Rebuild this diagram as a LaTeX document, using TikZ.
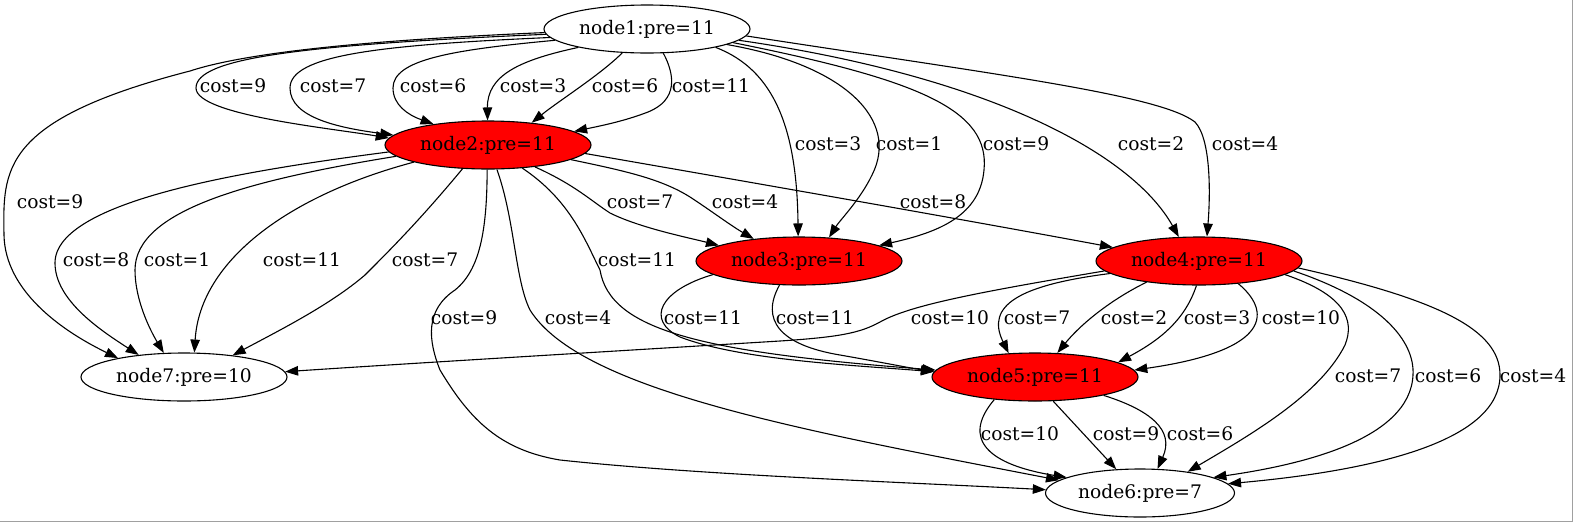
\documentclass[tikz,border=0pt]{standalone}
\usepackage{fontspec}
\setmainfont{DejaVu Serif}
\usetikzlibrary{shapes.geometric,arrows.meta}
\definecolor{framegray}{RGB}{160,160,160}
\begin{document}
\begin{tikzpicture}[x=1pt,y=-1pt,
  nd/.style={ellipse,draw=black,line width=1.1pt,minimum width=206pt,minimum height=48pt,inner sep=0pt,font=\fontsize{18.67}{20}\selectfont},
  hot/.style={nd,fill=red},
  e/.style={line width=1.1pt,-{Triangle[length=13pt,width=9.5pt]}},
  lbl/.style={inner sep=0pt,font=\fontsize{18.67}{20}\selectfont}]
\useasboundingbox (0,0) rectangle (1574,523);
\draw[framegray,line width=1pt] (1572.5,0) -- (1572.5,521.5) -- (0,521.5);

% nodes
\node[nd]  (n1) at (647,29)  {node1:pre=11};
\node[hot] (n2) at (488,145) {node2:pre=11};
\node[hot] (n3) at (799,261) {node3:pre=11};
\node[hot] (n4) at (1199,261) {node4:pre=11};
\node[hot] (n5) at (1035,377) {node5:pre=11};
\node[nd,minimum width=189pt] (n6) at (1140,493) {node6:pre=7};
\node[nd]  (n7) at (184,377) {node7:pre=10};

% node1 -> node2
\draw[e] (n1.183) .. controls (300,45) and (196,58) .. (196,88) .. controls (196,115) and (330,128) .. (n2.176);
\draw[e] (n1.185) .. controls (380,45) and (290,55) .. (290,88) .. controls (290,118) and (340,128) .. (n2.174);
\draw[e] (n1.187) .. controls (450,50) and (393,60) .. (393,88) .. controls (393,105) and (408,115) .. (n2.159);
\draw[e] (n1.195) .. controls (520,60) and (487,75) .. (n2.91);
\draw[e] (n1.224) .. controls (600,75) and (560,100) .. (n2.27);
\draw[e] (n1.304) .. controls (675,75) and (678,100) .. (648,112) .. controls (625,121) and (600,126) .. (n2.9);
% node1 -> node7
\draw[e] (n1.182) .. controls (420,38) and (260,48) .. (190,71) .. controls (0,120) and (3,170) .. (4,235) .. controls (5,290) and (60,330) .. (n7.164);
% node1 -> node3
\draw[e] (n1.345) .. controls (775,70) and (797,130) .. (n3.92);
\draw[e] (n1.349) .. controls (845,65) and (900,120) .. (872,175) .. controls (860,200) and (840,220) .. (n3.38);
\draw[e] (n1.351) .. controls (920,80) and (990,110) .. (984,170) .. controls (980,215) and (940,232) .. (n3.11);
% node1 -> node4
\draw[e] (n1.353) .. controls (980,75) and (1130,150) .. (n4.130);
\draw[e] (n1.356) .. controls (1000,75) and (1160,95) .. (1195,122) .. controls (1212,140) and (1210,200) .. (n4.72);
% node2 -> node7
\draw[e] (n2.184) .. controls (250,170) and (55,200) .. (55,263) .. controls (55,300) and (100,330) .. (n7.154);
\draw[e] (n2.187) .. controls (250,180) and (135,210) .. (135,270) .. controls (135,300) and (150,330) .. (n7.130);
\draw[e] (n2.193) .. controls (290,195) and (200,260) .. (n7.67);
\draw[e] (n2.223) .. controls (420,220) and (390,250) .. (365,275) .. controls (330,305) and (280,330) .. (n7.24);
% node2 -> node3
\draw[e] (n2.335) .. controls (575,185) and (590,200) .. (610,213) .. controls (640,228) and (690,238) .. (n3.169);
\draw[e] (n2.350) .. controls (620,170) and (660,178) .. (690,197) .. controls (710,210) and (730,225) .. (n3.154);
% node2 -> node4
\draw[e] (n2.355) .. controls (720,177) and (950,217) .. (n4.171);
% node2 -> node5
\draw[e] (n2.326) .. controls (570,200) and (585,240) .. (600,270) .. controls (610,330) and (700,352) .. (n5.176);
% node2 -> node6
\draw[e] (n2.268) .. controls (487,230) and (480,270) .. (455,290) .. controls (425,310) and (428,340) .. (440,370) .. controls (470,420) and (500,450) .. (560,460) .. controls (700,475) and (900,482) .. (n6.178);
\draw[e] (n2.290) .. controls (515,220) and (515,280) .. (530,310) .. controls (580,390) and (800,430) .. (n6.171);
% node3 -> node5
\draw[e] (n3.189) .. controls (660,290) and (645,320) .. (680,337) .. controls (740,360) and (850,365) .. (n5.177);
\draw[e] (n3.231) .. controls (760,320) and (780,345) .. (840,355) .. controls (880,362) and (910,368) .. (n5.177);
% node4 -> node7
\draw[e] (n4.186) .. controls (980,292) and (910,305) .. (880,322) .. controls (860,333) and (840,337) .. (780,341) .. controls (600,352) and (400,364) .. (n7.3);
% node4 -> node5
\draw[e] (n4.188) .. controls (1020,285) and (985,305) .. (n5.138);
\draw[e] (n4.202) .. controls (1110,300) and (1080,325) .. (n5.47);
\draw[e] (n4.264) .. controls (1185,320) and (1160,340) .. (n5.10);
\draw[e] (n4.330) .. controls (1270,310) and (1275,350) .. (n5.4);
% node4 -> node6
\draw[e] (n4.351) .. controls (1345,295) and (1355,320) .. (1345,345) .. controls (1320,395) and (1250,435) .. (n6.24);
\draw[e] (n4.354) .. controls (1380,300) and (1415,340) .. (1413,375) .. controls (1410,440) and (1300,465) .. (n6.12);
\draw[e] (n4.356) .. controls (1440,300) and (1500,330) .. (1500,375) .. controls (1500,440) and (1380,470) .. (n6.6);
% node5 -> node6
\draw[e] (n5.209) .. controls (960,440) and (990,465) .. (n6.168);
\draw[e] (n5.307) -- (n6.135);
\draw[e] (n5.345) .. controls (1150,410) and (1175,430) .. (n6.54);

% labels
\node[lbl] (l1)  at (233,86) {cost=9};
\node[lbl] (l2)  at (333,86) {cost=7};
\node[lbl] (l3)  at (433,86) {cost=6};
\node[lbl] (l4)  at (533,86) {cost=3};
\node[lbl] (l5)  at (625,86) {cost=6};
\node[lbl] (l6)  at (711,86) {cost=11};
\node[lbl] (l7)  at (50,202) {cost=9};
\node[lbl] (l8)  at (828,144) {cost=3};
\node[lbl] (l9)  at (909,144) {cost=1};
\node[lbl] (l10) at (1016,144) {cost=9};
\node[lbl] (l11) at (1151,144) {cost=2};
\node[lbl] (l12) at (1245,144) {cost=4};
\node[lbl] (l13) at (96,260) {cost=8};
\node[lbl] (l14) at (177,260) {cost=1};
\node[lbl] (l15) at (302,260) {cost=11};
\node[lbl] (l16) at (425,260) {cost=7};
\node[lbl] (l17) at (640,202) {cost=7};
\node[lbl] (l18) at (745,202) {cost=4};
\node[lbl] (l19) at (933,202) {cost=8};
\node[lbl] (l20) at (637,260) {cost=11};
\node[lbl] (l21) at (464,318) {cost=9};
\node[lbl] (l22) at (578,318) {cost=4};
\node[lbl] (l23) at (703,318) {cost=11};
\node[lbl] (l24) at (815,318) {cost=11};
\node[lbl] (l25) at (950,318) {cost=10};
\node[lbl] (l26) at (1037,318) {cost=7};
\node[lbl] (l27) at (1134,318) {cost=2};
\node[lbl] (l28) at (1217,318) {cost=3};
\node[lbl] (l29) at (1301,318) {cost=10};
\node[lbl] (l30) at (1368,376) {cost=7};
\node[lbl] (l31) at (1448,376) {cost=6};
\node[lbl] (l32) at (1533,376) {cost=4};
\node[lbl] (l33) at (1020,434) {cost=10};
\node[lbl] (l34) at (1126,434) {cost=9};
\node[lbl] (l35) at (1200,434) {cost=6};
\end{tikzpicture}
\end{document}
